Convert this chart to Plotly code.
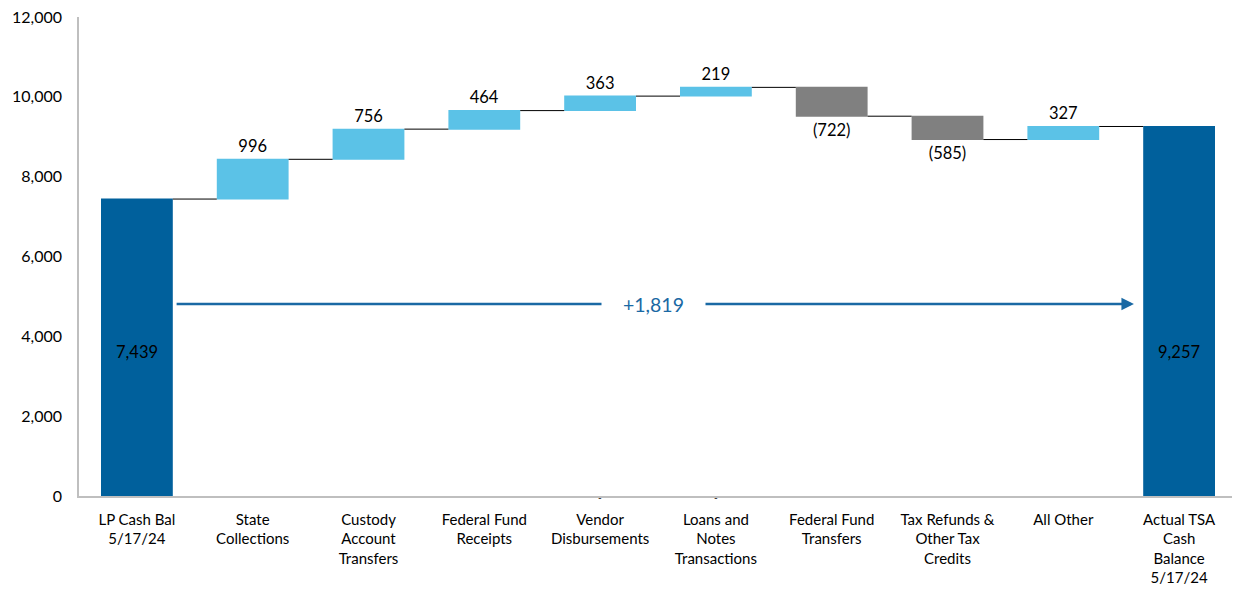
import plotly.graph_objects as go

categories = ["LP Cash Bal<br>5/17/24", "State<br>Collections", "Custody<br>Account<br>Transfers",
              "Federal Fund<br>Receipts", "Vendor<br>Disbursements", "Loans and<br>Notes<br>Transactions",
              "Federal Fund<br>Transfers", "Tax Refunds &<br>Other Tax<br>Credits", "All Other",
              "Actual TSA<br>Cash<br>Balance<br>5/17/24"]
values = [7439, 996, 756, 464, 363, 219, -722, -585, 327, 9257]
measures = ["absolute", "relative", "relative", "relative", "relative", "relative",
            "relative", "relative", "relative", "total"]
labels = ["7,439", "996", "756", "464", "363", "219", "(722)", "(585)", "327", "9,257"]
change_label = "+1,819"

FONT = "Lato, Calibri, Carlito, sans-serif"
DARK = "#00609C"
LIGHT = "#5BC2E7"
GRAY = "#808080"
FS_CAT = 15
FS_NUM = 16.5

bar_text = [t if m == "relative" else "" for t, m in zip(labels, measures)]

fig = go.Figure(go.Waterfall(
    x=categories, y=values, measure=measures,
    text=bar_text, textposition="outside",
    textfont=dict(family=FONT, size=FS_NUM, color="black"),
    outsidetextfont=dict(family=FONT, size=FS_NUM, color="black"),
    increasing=dict(marker=dict(color=LIGHT)),
    decreasing=dict(marker=dict(color=GRAY)),
    totals=dict(marker=dict(color=DARK)),
    connector=dict(mode="between", line=dict(color="black", width=1)),
    cliponaxis=False,
))

# total labels at a common height inside the dark bars
label_y = values[0] / 2
for i, (t, m) in enumerate(zip(labels, measures)):
    if m != "relative":
        fig.add_annotation(x=i, y=label_y, xref="x", yref="y", text=t, showarrow=False,
                           yshift=-4, font=dict(family=FONT, size=FS_NUM, color="black"))

# arrow showing net change
fig.add_annotation(x=8.61, y=4810, xref="x", yref="y", ax=0.33, ay=4810, axref="x", ayref="y",
                   text="", showarrow=True, arrowhead=2, arrowsize=1.0, arrowwidth=2.5,
                   arrowcolor="#1A69A4", standoff=0)
fig.add_annotation(x=4.46, y=4810, xref="x", yref="y", text=change_label, showarrow=False,
                   font=dict(family=FONT, size=19.5, color="#1A69A4"), bgcolor="white",
                   borderpad=21, xanchor="center", yanchor="middle")
for xi in [4, 5]:
    fig.add_annotation(x=xi, y=0, xref="x", yref="y", text="-", showarrow=False,
                       font=dict(family=FONT, size=10, color="black"), yanchor="middle", yshift=-1)

fig.update_layout(
    width=1240, height=597,
    margin=dict(l=71, r=11, t=9, b=109),
    plot_bgcolor="white", paper_bgcolor="white",
    showlegend=False,
    waterfallgap=0.38,
    font=dict(family=FONT, size=FS_CAT, color="black"),
    xaxis=dict(showline=True, linecolor="#BFBFBF", linewidth=1.5, ticks="", showgrid=False,
               automargin=False, ticklabelstandoff=9,
               tickfont=dict(family=FONT, size=FS_CAT, color="black")),
    yaxis=dict(range=[0, 12000], dtick=2000, tickformat=",", showline=True, linecolor="#BFBFBF",
               linewidth=1.5, showgrid=False, zeroline=False, ticks="", automargin=False,
               ticklabeloverflow="allow",
               tickfont=dict(family=FONT, size=16, color="black"), ticklabelstandoff=12),
)

fig.write_html("out.html")
